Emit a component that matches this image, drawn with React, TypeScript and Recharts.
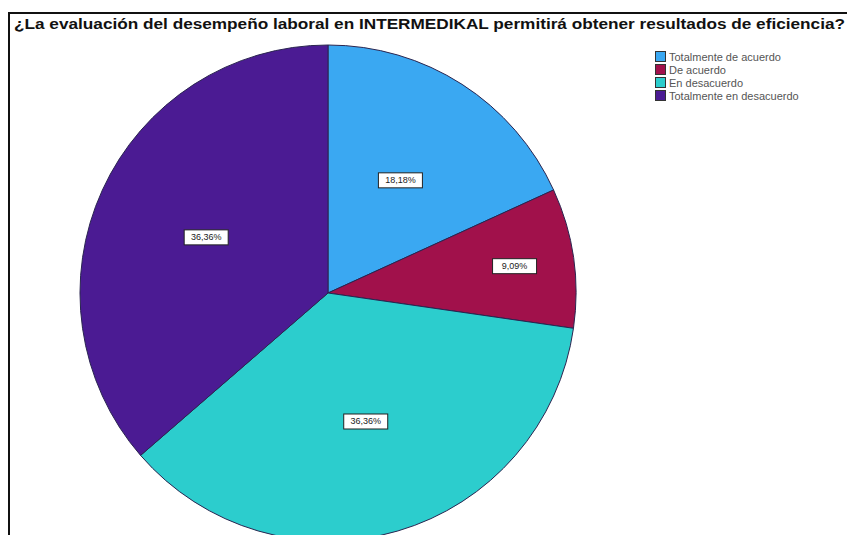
import { PieChart, Pie, Cell, Legend } from "recharts";

const categories = [
  "Totalmente de acuerdo",
  "De acuerdo",
  "En desacuerdo",
  "Totalmente en desacuerdo",
];
const percents = [18.18, 9.09, 36.36, 36.36];
const colors = ["#3aa8f2", "#a1114b", "#2ccdcd", "#4b1b93"];

const title =
  "¿La evaluación del desempeño laboral en INTERMEDIKAL permitirá obtener resultados de eficiencia?";

const data = categories.map((name, i) => ({ name, value: percents[i] }));

const RADIAN = Math.PI / 180;

function renderLabel(props: any) {
  const { cx, cy, midAngle, outerRadius, percent, value } = props;
  const r = outerRadius * (percent < 0.1 ? 0.76 : 0.54);
  const x = cx + r * Math.cos(-midAngle * RADIAN);
  const y = cy + r * Math.sin(-midAngle * RADIAN);
  const text = value.toFixed(2).replace(".", ",") + "%";
  return (
    <g>
      <rect x={x - 22} y={y - 7.5} width={44} height={15} fill="#fff" stroke="#222" strokeWidth={1} />
      <text
        x={x}
        y={y}
        textAnchor="middle"
        dominantBaseline="central"
        fontSize={9}
        fontFamily="'Liberation Sans', Arial, sans-serif"
        fill="#222"
      >
        {text}
      </text>
    </g>
  );
}

function renderLegend() {
  return (
    <div style={{ fontFamily: "'Liberation Sans', Arial, sans-serif", fontSize: 11, color: "#555" }}>
      {categories.map((c, i) => (
        <div key={c} style={{ display: "flex", alignItems: "center", height: 13 }}>
          <span
            style={{
              display: "inline-block",
              width: 9,
              height: 9,
              background: colors[i],
              border: "1px solid #333",
              marginRight: 3,
            }}
          />
          <span>{c}</span>
        </div>
      ))}
    </div>
  );
}

export default function App() {
  return (
    <div style={{ position: "absolute", left: 0, top: 0, width: 847, height: 535, background: "#fff", overflow: "hidden" }}>
      <div
        style={{
          position: "absolute",
          left: 8,
          top: 12,
          width: 860,
          height: 540,
          borderLeft: "2px solid #111",
          borderTop: "2px solid #111",
        }}
      />
      <PieChart
        width={847}
        height={535}
        margin={{ top: 0, right: 0, bottom: 0, left: 0 }}
        style={{ position: "absolute", left: 0, top: 0 }}
      >
        <Pie
          data={data}
          dataKey="value"
          nameKey="name"
          cx={328}
          cy={293}
          outerRadius={248}
          startAngle={90}
          endAngle={-270}
          stroke="#2a2550"
          strokeWidth={1}
          label={renderLabel}
          labelLine={false}
          isAnimationActive={false}
        >
          {data.map((d, i) => (
            <Cell key={d.name} fill={colors[i]} />
          ))}
        </Pie>
        <Legend
          content={renderLegend}
          wrapperStyle={{ position: "absolute", left: 655, top: 50, width: 190 }}
        />
      </PieChart>
      <svg width={847} height={40} style={{ position: "absolute", left: 0, top: 0 }}>
        <text
          x={14}
          y={29}
          fontSize={14}
          fontWeight="bold"
          fontFamily="'Liberation Sans', Arial, sans-serif"
          fill="#111"
          textLength={831}
          lengthAdjust="spacingAndGlyphs"
        >
          {title}
        </text>
      </svg>
    </div>
  );
}
